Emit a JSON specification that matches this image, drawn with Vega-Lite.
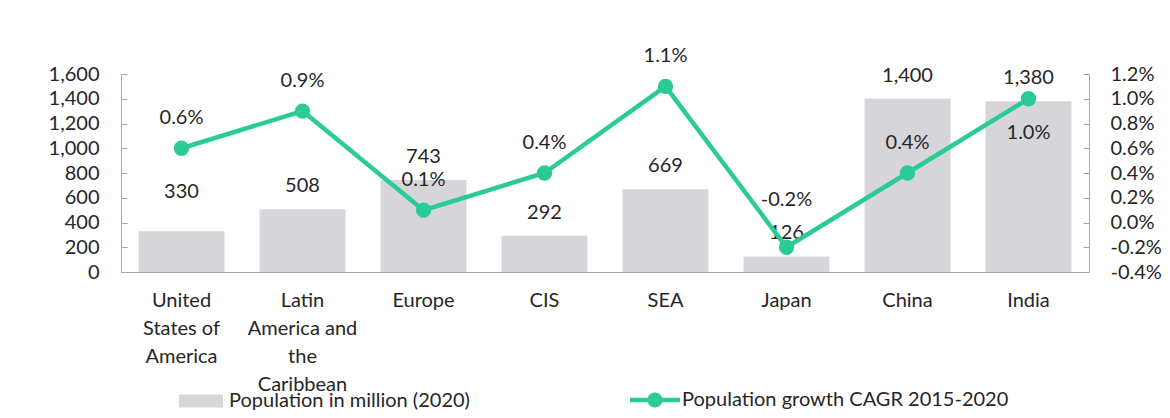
{
  "$schema": "https://vega.github.io/schema/vega-lite/v6.json",
  "width": 968,
  "height": 198,
  "autosize": {"type": "none"},
  "padding": {"left": 121, "top": 74, "right": 81, "bottom": 146},
  "background": "white",
  "config": {
    "view": {"stroke": null},
    "font": "Lato",
    "locale": {"number": {"decimal": ".", "thousands": ",", "grouping": [3], "currency": ["$", ""], "minus": "-"}},
    "axis": {"labelFont": "Lato", "labelFontSize": 20, "labelColor": "#262626", "domainColor": "#A6A6A6", "tickColor": "#A6A6A6", "grid": false, "title": null},
    "legend": {"labelFont": "Lato", "labelFontSize": 20, "labelColor": "#262626", "title": null, "padding": 0, "labelOffset": 6, "labelLimit": 500}
  },
  "data": {"values": [
    {"country": "United States of America", "pop": 330, "growth": 0.006},
    {"country": "Latin America and the Caribbean", "pop": 508, "growth": 0.009},
    {"country": "Europe", "pop": 743, "growth": 0.001},
    {"country": "CIS", "pop": 292, "growth": 0.004},
    {"country": "SEA", "pop": 669, "growth": 0.011},
    {"country": "Japan", "pop": 126, "growth": -0.002},
    {"country": "China", "pop": 1400, "growth": 0.004},
    {"country": "India", "pop": 1380, "growth": 0.010}
  ]},
  "encoding": {
    "x": {
      "field": "country", "type": "nominal", "sort": null,
      "scale": {"paddingInner": 0.29, "paddingOuter": 0.145},
      "axis": {
        "labelAngle": 0, "ticks": false, "labelPadding": 18, "labelLineHeight": 28,
        "labelExpr": "datum.value == 'United States of America' ? ['United', 'States of', 'America'] : datum.value == 'Latin America and the Caribbean' ? ['Latin', 'America and', 'the', 'Caribbean'] : datum.value"
      }
    }
  },
  "layer": [
    {
      "encoding": {
        "y": {"field": "pop", "type": "quantitative", "scale": {"domain": [0, 1600], "nice": false},
          "axis": {"orient": "left", "values": [0, 200, 400, 600, 800, 1000, 1200, 1400, 1600], "format": ",.0f", "tickSize": -6, "labelPadding": 28}}
      },
      "layer": [
        {
          "mark": {"type": "bar"},
          "encoding": {
            "fill": {"datum": "Population in million (2020)", "type": "nominal",
              "scale": {"range": ["#D6D5DA"]},
              "legend": {"orient": "none", "legendX": 58, "legendY": 305, "symbolType": "M-1,-0.3H1V0.3H-1Z", "symbolSize": 1936, "symbolStrokeWidth": 0, "symbolOpacity": 1}}
          }
        },
        {
          "transform": [{"filter": "datum.country != 'United States of America'"}],
          "mark": {"type": "text", "dy": -23, "baseline": "middle", "fontSize": 20, "color": "#262626", "font": "Lato"},
          "encoding": {"text": {"field": "pop", "type": "quantitative", "format": ",.0f"}}
        },
        {
          "transform": [{"filter": "datum.country == 'United States of America'"}],
          "mark": {"type": "text", "dy": -39, "baseline": "middle", "fontSize": 20, "color": "#262626", "font": "Lato"},
          "encoding": {"text": {"field": "pop", "type": "quantitative", "format": ",.0f"}}
        }
      ]
    },
    {
      "encoding": {
        "y": {"field": "growth", "type": "quantitative", "scale": {"domain": [-0.004, 0.012], "nice": false, "zero": false},
          "axis": {"orient": "right", "values": [-0.004, -0.002, 0, 0.002, 0.004, 0.006, 0.008, 0.01, 0.012], "format": ".1%", "tickSize": -6, "labelPadding": 27}}
      },
      "layer": [
        {
          "mark": {"type": "line", "strokeWidth": 4.5, "point": {"filled": true, "size": 180, "fill": "#2BCB97", "color": "#2BCB97"}},
          "encoding": {
            "stroke": {"datum": "Population growth CAGR 2015-2020", "type": "nominal",
              "scale": {"range": ["#2BCB97"]},
              "legend": {"orient": "none", "legendX": 509, "legendY": 301,
                "symbolType": "M-1,-0.09H1V0.09H-1Z M-0.3,0 A0.3,0.3 0 1,1 0.3,0 A0.3,0.3 0 1,1 -0.3,0 Z",
                "symbolSize": 2500, "symbolFillColor": "#2BCB97", "symbolStrokeWidth": 0, "symbolOpacity": 1, "labelOffset": 2}}
          }
        },
        {
          "transform": [{"filter": "datum.country != 'India' && datum.country != 'Japan'"}],
          "mark": {"type": "text", "dy": -30, "baseline": "middle", "fontSize": 20, "color": "#262626", "font": "Lato"},
          "encoding": {"text": {"field": "growth", "type": "quantitative", "format": ".1%"}}
        },
        {
          "transform": [{"filter": "datum.country == 'Japan'"}],
          "mark": {"type": "text", "dy": -47, "baseline": "middle", "fontSize": 20, "color": "#262626", "font": "Lato"},
          "encoding": {"text": {"field": "growth", "type": "quantitative", "format": ".1%"}}
        },
        {
          "transform": [{"filter": "datum.country == 'India'"}],
          "mark": {"type": "text", "dy": 34, "baseline": "middle", "fontSize": 20, "color": "#262626", "font": "Lato"},
          "encoding": {"text": {"field": "growth", "type": "quantitative", "format": ".1%"}}
        }
      ]
    }
  ],
  "resolve": {"scale": {"y": "independent"}}
}
